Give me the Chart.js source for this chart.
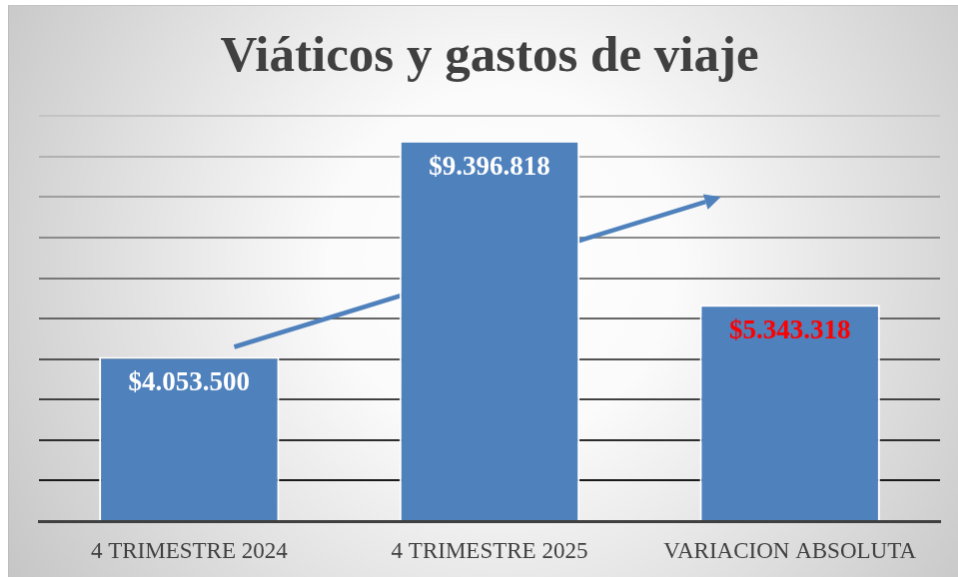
<!DOCTYPE html>
<html>
<head>
<meta charset="utf-8">
<script src="https://cdn.jsdelivr.net/npm/chart.js@4.4.1/dist/chart.umd.min.js"></script>
<style>
  body { margin: 0; background: #ffffff; }
  #myChart { position: absolute; left: 8px; top: 5px; border-left: 1px solid #bdbdbd; border-top: 1px solid #c4c4c4; }
</style>
</head>
<body>
<canvas id="myChart" width="950" height="572"></canvas>
<script>
const categories = ['4 TRIMESTRE 2024', '4 TRIMESTRE 2025', 'VARIACION ABSOLUTA'];
const values = [4053500, 9396818, 5343318];
const valueLabels = ['$4.053.500', '$9.396.818', '$5.343.318'];
const labelColors = ['#ffffff', '#ffffff', '#ff0000'];
// trend arrow, in data space: [category position, value]
const arrowFrom = [0.15, 4300000];
const arrowTo = [1.77, 8000000];

function lerpGray(t) {
    const v = Math.round(26 + t * (196 - 26));
    return `rgb(${v},${v},${v})`;
}

const backgroundPlugin = {
    id: 'bg',
    beforeDraw(chart) {
        const ctx = chart.ctx;
        const w = chart.width, h = chart.height;
        const g = ctx.createRadialGradient(w * 0.52, h * 0.45, 0, w * 0.52, h * 0.45, Math.hypot(w * 0.52, h * 0.55));
        g.addColorStop(0, '#ffffff');
        g.addColorStop(0.3, '#fbfbfb');
        g.addColorStop(1, '#c6c6c6');
        ctx.save();
        ctx.fillStyle = g;
        ctx.fillRect(0, 0, w, h);
        ctx.restore();
    }
};

const arrowPlugin = {
    id: 'arrow',
    beforeDatasetsDraw(chart) {
        const { ctx, scales: { x, y } } = chart;
        const step = x.getPixelForValue(1) - x.getPixelForValue(0);
        const x1 = x.getPixelForValue(0) + arrowFrom[0] * step;
        const y1 = y.getPixelForValue(arrowFrom[1]);
        const x2 = x.getPixelForValue(0) + arrowTo[0] * step;
        const y2 = y.getPixelForValue(arrowTo[1]);
        const ang = Math.atan2(y2 - y1, x2 - x1);
        const head = 16, half = 8;
        const bx = x2 - head * Math.cos(ang), by = y2 - head * Math.sin(ang);
        ctx.save();
        ctx.strokeStyle = '#4F81BD';
        ctx.fillStyle = '#4F81BD';
        ctx.lineWidth = 4.5;
        ctx.beginPath();
        ctx.moveTo(x1, y1);
        ctx.lineTo(bx, by);
        ctx.stroke();
        ctx.beginPath();
        ctx.moveTo(x2, y2);
        ctx.lineTo(bx + half * Math.sin(ang), by - half * Math.cos(ang));
        ctx.lineTo(bx - half * Math.sin(ang), by + half * Math.cos(ang));
        ctx.closePath();
        ctx.fill();
        ctx.restore();
    }
};

const valueLabelPlugin = {
    id: 'valueLabels',
    afterDatasetsDraw(chart) {
        const ctx = chart.ctx;
        const meta = chart.getDatasetMeta(0);
        ctx.save();
        ctx.font = 'bold 27px "Liberation Serif"';
        ctx.textAlign = 'center';
        ctx.textBaseline = 'middle';
        meta.data.forEach((bar, i) => {
            ctx.fillStyle = labelColors[i];
            ctx.fillText(valueLabels[i], bar.x, bar.y + 27);
        });
        ctx.restore();
    }
};

function plotChart() {
    const ctx = document.getElementById('myChart');

    new Chart(ctx, {
    type: 'bar',
    data: {
        labels: categories,
        datasets: [{
        data: values,
        backgroundColor: '#4F81BD',
        borderColor: '#ffffff',
        borderWidth: 2,
        categoryPercentage: 1,
        barPercentage: 0.6
        }]
    },
    options: {
        responsive: false,
        animation: false,
        devicePixelRatio: 1,
        layout: { padding: { left: 30, right: 18, top: 0, bottom: 0 } },
        plugins: {
        legend: { display: false },
        tooltip: { enabled: false },
        title: {
            display: true,
            text: 'Viáticos y gastos de viaje',
            color: '#404040',
            font: { family: '"Liberation Serif"', size: 51, weight: 'bold', lineHeight: 1.2 },
            padding: { top: 21, bottom: 28 }
        }
        },
        scales: {
        x: {
            grid: { display: false },
            border: { display: true, color: '#404040', width: 3 },
            ticks: { color: '#404040', font: { family: '"Liberation Serif"', size: 23 }, padding: 9 },
            afterFit: (scale) => { scale.height = 56; }
        },
        y: {
            min: 0,
            max: 10000000,
            ticks: { display: false, stepSize: 1000000 },
            border: { display: false },
            grid: {
                lineWidth: 2,
                drawTicks: false,
                color: (c) => c.tick && c.tick.value === 0 ? 'rgba(0,0,0,0)' : lerpGray((c.tick.value / 1000000 - 1) / 9)
            }
        }
        }
    },
    plugins: [backgroundPlugin, arrowPlugin, valueLabelPlugin]
    });
}

plotChart();
</script>
</body>
</html>
